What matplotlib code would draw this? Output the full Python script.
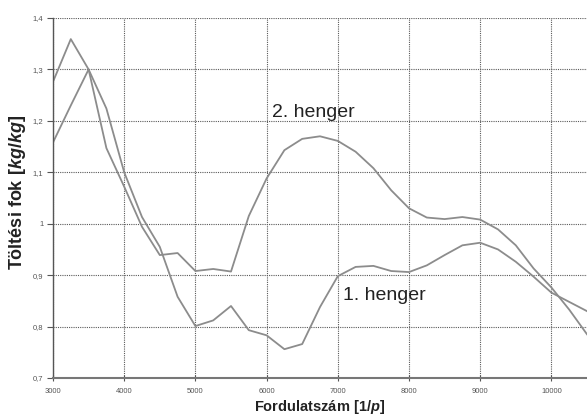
import matplotlib
matplotlib.use("Agg")
import matplotlib.pyplot as plt
from matplotlib.ticker import FuncFormatter

plt.rcParams['font.family'] = ['Liberation Sans', 'DejaVu Sans']
plt.rcParams['mathtext.fontset'] = 'custom'
plt.rcParams['mathtext.it'] = 'Liberation Sans:italic:bold'
plt.rcParams['mathtext.rm'] = 'Liberation Sans:bold'

rpm = [3000, 3250, 3500, 3750, 4000, 4250, 4500, 4750, 5000, 5250, 5500, 5750,
       6000, 6250, 6500, 6750, 7000, 7250, 7500, 7750, 8000, 8250, 8500, 8750,
       9000, 9250, 9500, 9750, 10000, 10250, 10500]

henger1 = [1.158, 1.230, 1.300, 1.224, 1.100, 1.013, 0.955, 0.858, 0.801, 0.812,
           0.840, 0.793, 0.783, 0.756, 0.766, 0.838, 0.898, 0.916, 0.918, 0.908,
           0.906, 0.919, 0.939, 0.958, 0.963, 0.950, 0.926, 0.897, 0.866, 0.848,
           0.830]

henger2 = [1.276, 1.359, 1.300, 1.147, 1.072, 0.994, 0.939, 0.943, 0.908, 0.912,
           0.907, 1.015, 1.088, 1.143, 1.165, 1.170, 1.161, 1.140, 1.108, 1.065,
           1.030, 1.012, 1.009, 1.013, 1.008, 0.989, 0.958, 0.913, 0.876, 0.833,
           0.785]

xticks = [3000, 4000, 5000, 6000, 7000, 8000, 9000, 10000]
yticks = [0.7, 0.8, 0.9, 1.0, 1.1, 1.2, 1.3, 1.4]

fig = plt.figure(figsize=(5.87, 4.19), dpi=100)
ax = fig.add_axes([53/587, 41/419, 1 - 53/587, 360/419])

line_color = '#8c8c8c'
ax.plot(rpm, henger1, color=line_color, lw=1.3)
ax.plot(rpm, henger2, color=line_color, lw=1.3)

ax.set_xlim(3000, 10500)
ax.set_ylim(0.7, 1.4)
ax.set_xticks(xticks)
ax.set_yticks(yticks)


def yfmt(v, pos):
    s = ('%.1f' % v)
    if s.endswith('.0'):
        s = s[:-2]
    return s.replace('.', ',')


ax.yaxis.set_major_formatter(FuncFormatter(yfmt))
ax.xaxis.set_major_formatter(FuncFormatter(lambda v, p: '%d' % v))

ax.grid(True, color='#5a5a5a', linestyle=(0, (1, 1)), lw=0.8)
ax.set_axisbelow(True)

for s in ['top', 'right']:
    ax.spines[s].set_visible(False)
ax.spines['left'].set_color('#555555')
ax.spines['left'].set_linewidth(1.0)
ax.spines['bottom'].set_color('#777777')
ax.spines['bottom'].set_linewidth(1.5)

ax.tick_params(axis='both', labelsize=5.5, labelcolor='#555555', color='#555555',
               length=4, width=0.8)
ax.tick_params(axis='y', pad=3)
ax.tick_params(axis='x', pad=5, direction='inout')

ax.set_xlabel(r'Fordulatszám [$\it{1/p}$]', fontsize=10.5, fontweight='bold',
              color='#222222', labelpad=2)
ax.set_ylabel(r'Töltési fok [$\it{kg/kg}$]', fontsize=13, fontweight='bold',
              color='#222222', labelpad=2)
ax.yaxis.set_label_coords(-0.046, 0.515)

ax.text(6080, 1.208, '2. henger', fontsize=14, color='#222222', ha='left', va='baseline')
ax.text(7079, 0.851, '1. henger', fontsize=14, color='#222222', ha='left', va='baseline')

fig.savefig('out.png', dpi=100)
